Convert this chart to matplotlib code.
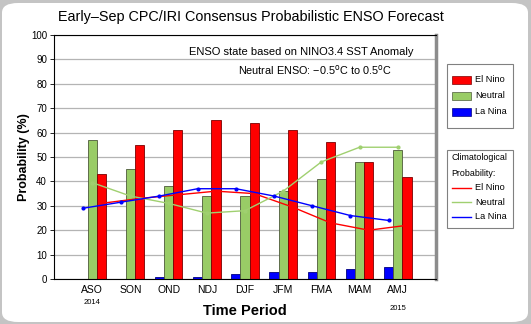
import numpy as np
import matplotlib.pyplot as plt
from matplotlib.patches import FancyBboxPatch, Rectangle

plt.rcParams['font.family'] = ['Liberation Sans', 'DejaVu Sans']

## Forecast probabilities (%)
seasons = ['ASO', 'SON', 'OND', 'NDJ', 'DJF', 'JFM', 'FMA', 'MAM', 'AMJ']
el_nino = [43, 55, 61, 65, 64, 61, 56, 48, 42]
neutral = [57, 45, 38, 34, 34, 36, 41, 48, 53]
la_nina = [0, 0, 1, 1, 2, 3, 3, 4, 5]

## Climatological probabilities (%)
clim_el_nino = [31, 33, 34.5, 36, 35, 29.5, 23, 20, 22]
clim_neutral = [39.5, 34, 31, 27, 28, 36, 48, 54, 54]
clim_la_nina = [29, 31.5, 34, 37, 37, 34, 30, 26, 24]

legend_names = ['El Nino', 'Neutral', 'La Nina']

RED = '#ff0000'
GREEN = '#99cc66'
BLUE = '#0000ff'
LGREEN = '#a0d070'

fig = plt.figure(figsize=(5.31, 3.24), dpi=100)
fig.patch.set_facecolor('#c4c4c4')
fig.patches.append(FancyBboxPatch((2/531, 2/324), 526/531, 319/324,
                                  boxstyle='round,pad=0,rounding_size=0.03',
                                  transform=fig.transFigure, facecolor='white',
                                  edgecolor='none', zorder=-1))

ax = fig.add_axes([54/531, 45/324, 382/531, 244/324])
ax.set_facecolor('white')

x = np.arange(1, len(seasons) + 1)
w = 0.24
ax.bar(x - w, la_nina, w, color=BLUE, edgecolor='#000080', linewidth=0.6, zorder=2)
ax.bar(x, neutral, w, color=GREEN, edgecolor='#4d5a3a', linewidth=0.6, zorder=2)
ax.bar(x + w, el_nino, w, color=RED, edgecolor='#7a0000', linewidth=0.6, zorder=2)

ax.plot(x + w, clim_el_nino, color=RED, lw=1.0, zorder=3)
ax.plot(x, clim_neutral, color=LGREEN, lw=1.0, marker='o', ms=2, zorder=3)
ax.plot(x - w, clim_la_nina, color=BLUE, lw=1.0, marker='o', ms=2, zorder=4)

ax.set_xlim(0, 10)
ax.set_ylim(0, 100)
ax.set_yticks(np.arange(0, 101, 10))
ax.set_xticks(x)
ax.set_xticklabels(seasons, fontsize=7.5)
ax.tick_params(axis='x', length=0, pad=4)
ax.tick_params(axis='y', length=3, width=0.6, labelsize=7, pad=2)
ax.yaxis.grid(True, color='#b4b4b4', lw=0.9, zorder=0)
ax.set_axisbelow(True)
for s in ['left', 'bottom', 'top']:
    ax.spines[s].set_color('black')
    ax.spines[s].set_linewidth(0.8)
ax.spines['right'].set_color('#8c8c8c')
ax.spines['right'].set_linewidth(2.5)

ax.text(1, -23/244, '2014', transform=ax.get_xaxis_transform(), ha='center',
        va='center', fontsize=5.5)
ax.text(9, -29/244, '2015', transform=ax.get_xaxis_transform(), ha='center',
        va='center', fontsize=5.5)
ax.set_xlabel('Time Period', fontsize=10.5, fontweight='bold', labelpad=6.5)
ax.set_ylabel('Probability (%)', fontsize=9, fontweight='bold', labelpad=1)

ax.text(0.94, 0.93, 'ENSO state based on NINO3.4 SST Anomaly', transform=ax.transAxes,
        ha='right', va='center', fontsize=8)
ax.text(0.885, 0.855, 'Neutral ENSO: \u22120.5$^{\\rm o}$C to 0.5$^{\\rm o}$C',
        transform=ax.transAxes, ha='right', va='center', fontsize=7.8)

fig.text(251/531, 1 - 17/324, 'Early\u2013Sep CPC/IRI Consensus Probabilistic ENSO Forecast',
         ha='center', va='center', fontsize=10.4)

## legend panels drawn in pixel coordinates on an overlay
lg = fig.add_axes([0, 0, 1, 1], facecolor='none')
lg.set_xlim(0, 531)
lg.set_ylim(324, 0)
lg.axis('off')

lg.add_patch(Rectangle((447, 64), 66, 64, facecolor='white', edgecolor='#808080', lw=0.8))
for i, (name, c, ec) in enumerate(zip(legend_names, [RED, GREEN, BLUE],
                                      ['#7a0000', '#4d5a3a', '#000080'])):
    yy = 80 + i * 16
    lg.add_patch(Rectangle((452, yy - 4), 19, 8, facecolor=c, edgecolor=ec, lw=0.5))
    lg.text(475, yy, name, fontsize=6.6, va='center', ha='left')

lg.add_patch(Rectangle((447, 150), 66, 78, facecolor='white', edgecolor='#808080', lw=0.8))
lg.text(451, 158, 'Climatological', fontsize=6.4, va='center', ha='left')
lg.text(451, 174, 'Probability:', fontsize=6.4, va='center', ha='left')
for i, (name, c) in enumerate(zip(legend_names, [RED, LGREEN, BLUE])):
    yy = 188 + i * 14.3
    lg.plot([452, 471], [yy, yy], color=c, lw=1)
    lg.text(475, yy, name, fontsize=6.6, va='center', ha='left')

fig.savefig('out.png', dpi=100, facecolor=fig.get_facecolor())
